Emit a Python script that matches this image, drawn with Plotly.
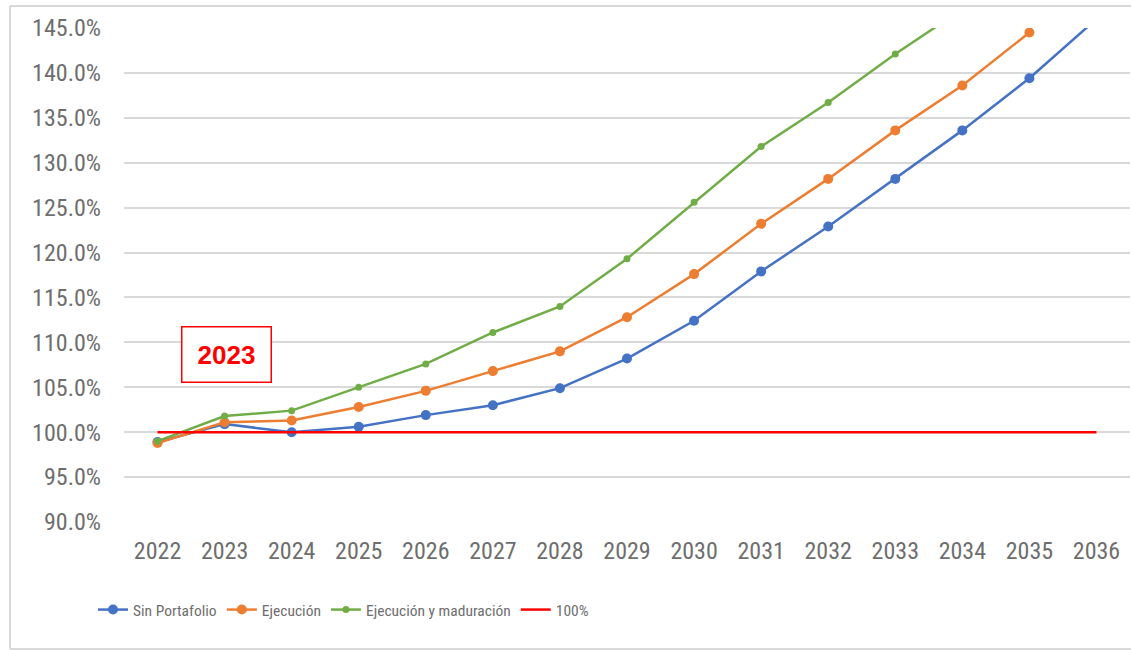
import plotly.graph_objects as go

years = [str(y) for y in range(2022, 2037)]
sin_portafolio = [98.9, 100.9, 100.0, 100.6, 101.9, 103.0, 104.9, 108.2, 112.4, 117.9, 122.9, 128.2, 133.6, 139.4, 146.0]
ejecucion = [98.8, 101.1, 101.3, 102.8, 104.6, 106.8, 109.0, 112.8, 117.6, 123.2, 128.2, 133.6, 138.6, 144.5, None]
ejec_maduracion = [99.0, 101.8, 102.4, 105.0, 107.6, 111.1, 114.0, 119.3, 125.6, 131.8, 136.7, 142.1, 147.1, None, None]
ref_100 = [100.0] * 15
y_ticks = [90, 95, 100, 105, 110, 115, 120, 125, 130, 135, 140, 145]
y_tick_labels = [f"{v:.1f}%" for v in y_ticks]
note_text = "2023"
note_year_index = 1  # position of "2023" among the categories

NARROW = "Liberation Sans Narrow, Arial Narrow, Roboto Condensed, DejaVu Sans Condensed, sans-serif"
GRAY = "#6e6e6e"

W, H = 1131, 650
ML, MR, MT, MB = 124, 1, 28, 128
PW, PH = W - ML - MR, H - MT - MB


def px_x(px):
    return (px - ML) / PW


def px_y(py):
    return (H - MB - py) / PH


fig = go.Figure()
fig.add_trace(go.Scatter(x=years, y=sin_portafolio, name="Sin Portafolio", mode="lines+markers",
                         line=dict(color="#4472C4", width=2.5), marker=dict(size=10, color="#4472C4")))
fig.add_trace(go.Scatter(x=years, y=ejecucion, name="Ejecución", mode="lines+markers",
                         line=dict(color="#ED7D31", width=2.5), marker=dict(size=10, color="#ED7D31")))
fig.add_trace(go.Scatter(x=years, y=ejec_maduracion, name="Ejecución y maduración", mode="lines+markers",
                         line=dict(color="#70AD47", width=2.5), marker=dict(size=7, color="#70AD47")))
fig.add_trace(go.Scatter(x=years, y=ref_100, name="100%", mode="lines",
                         line=dict(color="#FF0000", width=2.5)))

fig.add_annotation(x=note_year_index, y=108.7, xref="x", yref="y", text=f"<b>{note_text}</b>", showarrow=False,
                   xshift=2,
                   font=dict(family="Liberation Sans, Arial, sans-serif", size=26, color="#FF0000"),
                   bordercolor="#FF0000", borderwidth=1.5, width=86, height=52, bgcolor="white")

border = dict(color="#d9d9d9", width=2)
fig.add_shape(type="line", xref="paper", yref="paper", x0=px_x(10), x1=px_x(10), y0=px_y(6), y1=px_y(649), line=border)
fig.add_shape(type="line", xref="paper", yref="paper", x0=px_x(10), x1=px_x(W + 5), y0=px_y(6), y1=px_y(6), line=border)
fig.add_shape(type="line", xref="paper", yref="paper", x0=px_x(10), x1=px_x(W + 5), y0=px_y(649), y1=px_y(649), line=border)

fig.update_layout(
    width=W, height=H,
    margin=dict(l=ML, r=MR, t=MT, b=MB),
    plot_bgcolor="white", paper_bgcolor="white",
    showlegend=True,
    legend=dict(orientation="h", xref="container", yref="container", x=93 / W, y=1 - 610 / H,
                xanchor="left", yanchor="middle",
                font=dict(family=NARROW, size=15.5, color=GRAY), itemwidth=30),
    xaxis=dict(type="category", range=[-0.5, 14.5], showgrid=False, showline=False, ticks="",
               tickfont=dict(family=NARROW, size=24, color=GRAY), ticklabelstandoff=12, fixedrange=True),
    yaxis=dict(range=[90, 145], tickvals=y_ticks, ticktext=y_tick_labels, showgrid=True,
               gridcolor="#d9d9d9", gridwidth=1.5, zeroline=False, showline=False, ticks="",
               tickfont=dict(family=NARROW, size=24, color=GRAY), ticklabelstandoff=22),
)

fig.write_html("out.html", config={"displayModeBar": False},
               post_script="document.body.style.margin='0px';")
